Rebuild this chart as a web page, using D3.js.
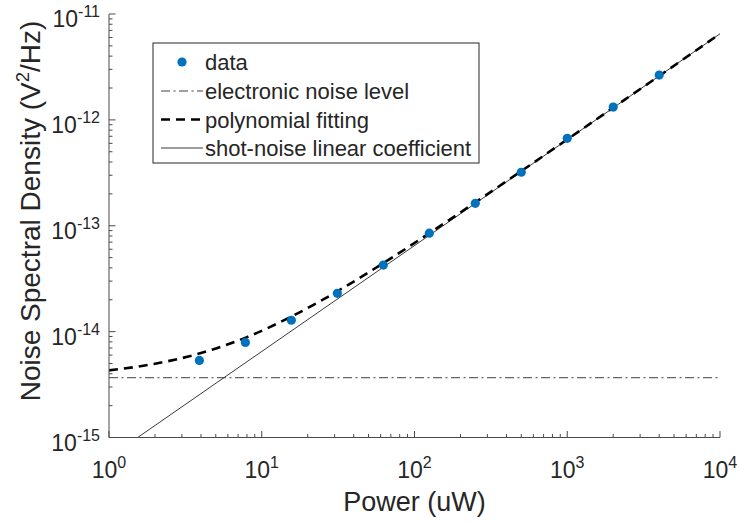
<!DOCTYPE html>
<html>
<head>
<meta charset="utf-8">
<script src="https://cdn.jsdelivr.net/npm/d3@7"></script>
<style>
  html, body { margin: 0; padding: 0; background: #fff; }
  svg { display: block; font-family: "Liberation Sans", Arial, Helvetica, sans-serif; }
</style>
</head>
<body>
<svg id="chart" width="740" height="526"></svg>
<script>
// Measured noise spectral density vs. optical power
const powerUW = [3.90625, 7.8125, 15.625, 31.25, 62.5, 125, 250, 500, 1000, 2000, 4000];
const noisePSD = [5.35e-15, 7.9e-15, 1.28e-14, 2.3e-14, 4.25e-14, 8.5e-14, 1.63e-13, 3.2e-13, 6.7e-13, 1.32e-12, 2.65e-12];

// Electronic noise floor (horizontal reference)
const electronicPower = [1, 10000];
const electronicPSD = [3.67e-15, 3.67e-15];

// Polynomial fit curve samples
const fitPower = [1, 2, 4, 8, 16, 32, 64, 128, 256, 512, 1024, 2048, 4096, 10000];
const fitPSD = [4.3e-15, 4.97e-15, 6.27e-15, 8.87e-15, 1.41e-14, 2.45e-14, 4.53e-14, 8.69e-14, 1.70e-13, 3.36e-13, 6.69e-13, 1.335e-12, 2.66e-12, 6.5e-12];

// Shot-noise linear term
const shotPower = [1.54, 10000];
const shotPSD = [1e-15, 6.5e-12];

// Axis ticks
const xTickValues = [1, 10, 100, 1000, 10000];
const xTickExponents = ["0", "1", "2", "3", "4"];
const yTickValues = [1e-15, 1e-14, 1e-13, 1e-12, 1e-11];
const yTickExponents = ["-15", "-14", "-13", "-12", "-11"];

const legendLabels = ["data", "electronic noise level", "polynomial fitting", "shot-noise linear coefficient"];

const svg = d3.select("#chart");
const plotLeft = 109, plotRight = 720, plotTop = 14, plotBottom = 437.5;
const textColor = "#262626";
const axisColor = "#4a4a4a";
const markerColor = "#0072BD";

const x = d3.scaleLog().domain([1, 10000]).range([plotLeft, plotRight]);
const y = d3.scaleLog().domain([1e-15, 1e-11]).range([plotBottom, plotTop]);

svg.append("defs").append("clipPath").attr("id", "plotClip")
  .append("rect").attr("x", plotLeft).attr("y", plotTop)
  .attr("width", plotRight - plotLeft).attr("height", plotBottom - plotTop);

const plot = svg.append("g").attr("clip-path", "url(#plotClip)");

const line = d3.line().x(d => x(d[0])).y(d => y(d[1]));
const zip = (a, b) => a.map((v, i) => [v, b[i]]);

// electronic noise level
plot.append("path").datum(zip(electronicPower, electronicPSD))
  .attr("d", line).attr("fill", "none").attr("stroke", "#2a2a2a")
  .attr("stroke-width", 0.9).attr("stroke-dasharray", "9,3.5,2,3.5");

// shot-noise linear coefficient
plot.append("path").datum(zip(shotPower, shotPSD))
  .attr("d", line).attr("fill", "none").attr("stroke", "#3a3a3a")
  .attr("stroke-width", 1);

// polynomial fit
plot.append("path").datum(zip(fitPower, fitPSD))
  .attr("d", d3.line().x(d => x(d[0])).y(d => y(d[1])).curve(d3.curveMonotoneX))
  .attr("fill", "none").attr("stroke", "#000")
  .attr("stroke-width", 2.6).attr("stroke-dasharray", "9,6");

// data points
svg.append("g").selectAll("circle").data(zip(powerUW, noisePSD)).join("circle")
  .attr("cx", d => x(d[0])).attr("cy", d => y(d[1])).attr("r", 4.6)
  .attr("fill", markerColor);

// Axes: left and bottom only, ticks pointing inward
const minorX = [];
for (let e = 0; e < 4; e++) for (let m = 2; m <= 9; m++) minorX.push(m * Math.pow(10, e));
const minorY = [];
for (let e = -15; e < -11; e++) for (let m = 2; m <= 9; m++) minorY.push(m * Math.pow(10, e));

const axes = svg.append("g").attr("stroke", axisColor).attr("stroke-width", 1).attr("fill", "none");
axes.append("line").attr("x1", plotLeft).attr("x2", plotRight).attr("y1", plotBottom).attr("y2", plotBottom);
axes.append("line").attr("x1", plotLeft).attr("x2", plotLeft).attr("y1", plotTop).attr("y2", plotBottom);

axes.selectAll(".xmaj").data(xTickValues).join("line")
  .attr("x1", d => x(d)).attr("x2", d => x(d)).attr("y1", plotBottom).attr("y2", plotBottom - 6.5);
axes.selectAll(".xmin").data(minorX).join("line")
  .attr("x1", d => x(d)).attr("x2", d => x(d)).attr("y1", plotBottom).attr("y2", plotBottom - 3.5);
axes.selectAll(".ymaj").data(yTickValues).join("line")
  .attr("x1", plotLeft).attr("x2", plotLeft + 6.5).attr("y1", d => y(d)).attr("y2", d => y(d));
axes.selectAll(".ymin").data(minorY).join("line")
  .attr("x1", plotLeft).attr("x2", plotLeft + 3.5).attr("y1", d => y(d)).attr("y2", d => y(d));

// Tick labels as powers of ten
const tickFont = 23, supFont = 16;
const xl = svg.append("g").attr("fill", textColor).attr("font-size", tickFont);
xTickValues.forEach((v, i) => {
  const t = xl.append("text").attr("x", x(v)).attr("y", 478).attr("text-anchor", "middle");
  t.append("tspan").text("10");
  t.append("tspan").attr("font-size", supFont).attr("dy", -10).text(xTickExponents[i]);
});
const yl = svg.append("g").attr("fill", textColor).attr("font-size", tickFont);
yTickValues.forEach((v, i) => {
  const t = yl.append("text").attr("x", 100).attr("y", y(v) + 13).attr("text-anchor", "end");
  t.append("tspan").text("10");
  t.append("tspan").attr("font-size", supFont).attr("dy", -10).text(yTickExponents[i]);
});

// Axis titles
svg.append("text").attr("x", (plotLeft + plotRight) / 2).attr("y", 511)
  .attr("text-anchor", "middle").attr("font-size", 27).attr("fill", textColor)
  .text("Power (uW)");

const yTitle = svg.append("text")
  .attr("transform", "translate(40,211) rotate(-90)")
  .attr("text-anchor", "middle").attr("font-size", 28).attr("fill", textColor);
yTitle.append("tspan").text("Noise Spectral Density (V");
yTitle.append("tspan").attr("font-size", 18.5).attr("dy", -11).text("2");
yTitle.append("tspan").attr("dy", 11).text("/Hz)");

// Legend
const lg = svg.append("g");
lg.append("rect").attr("x", 153).attr("y", 43).attr("width", 326).attr("height", 120)
  .attr("fill", "#fff").attr("stroke", "#262626").attr("stroke-width", 1);
const rowY = [62, 91, 119.5, 148];
const sx1 = 161, sx2 = 203, tx = 205;
lg.append("circle").attr("cx", (sx1 + sx2) / 2).attr("cy", rowY[0]).attr("r", 4.6).attr("fill", markerColor);
lg.append("line").attr("x1", sx1).attr("x2", sx2).attr("y1", rowY[1]).attr("y2", rowY[1])
  .attr("stroke", "#2a2a2a").attr("stroke-width", 0.9).attr("stroke-dasharray", "9,3.5,2,3.5");
lg.append("line").attr("x1", sx1).attr("x2", sx2).attr("y1", rowY[2]).attr("y2", rowY[2])
  .attr("stroke", "#000").attr("stroke-width", 2.6).attr("stroke-dasharray", "9,6");
lg.append("line").attr("x1", sx1).attr("x2", sx2).attr("y1", rowY[3]).attr("y2", rowY[3])
  .attr("stroke", "#3a3a3a").attr("stroke-width", 1);
lg.selectAll("text").data(legendLabels).join("text")
  .attr("x", tx).attr("y", (d, i) => rowY[i] + 8)
  .attr("font-size", 22).attr("fill", textColor).text(d => d);
</script>
</body>
</html>
